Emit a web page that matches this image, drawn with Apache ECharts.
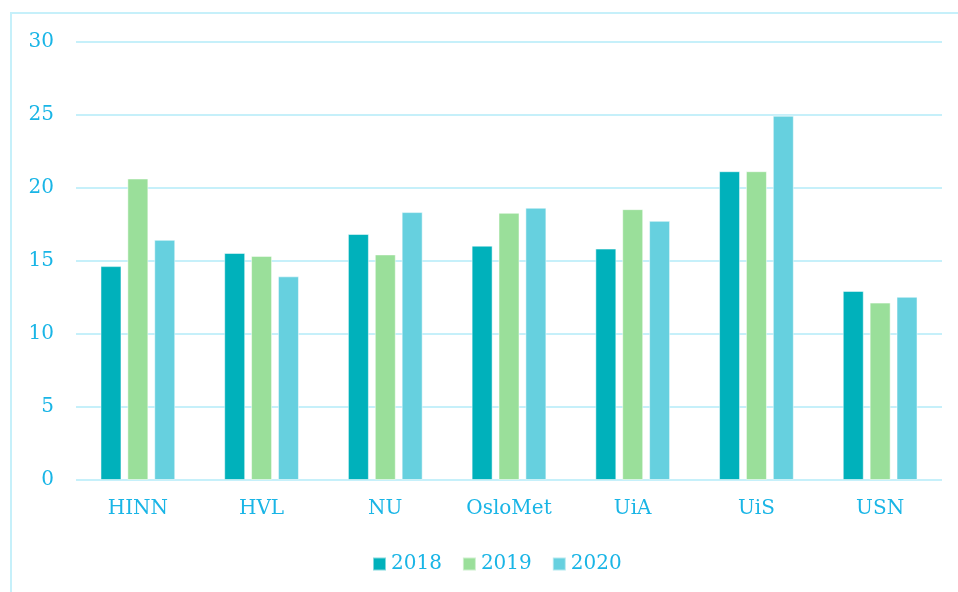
<!DOCTYPE html>
<html>
<head>
<meta charset="utf-8">
<script src="https://cdn.jsdelivr.net/npm/echarts@6/dist/echarts.min.js"></script>
<style>
  html, body { margin: 0; padding: 0; background: #fff; }
  #chart { width: 958px; height: 592px; }
</style>
</head>
<body>
<div id="chart"></div>
<script>
const categories = ['HINN', 'HVL', 'NU', 'OsloMet', 'UiA', 'UiS', 'USN']
const years = ['2018', '2019', '2020']
const values2018 = [14.65, 15.55, 16.85, 16.05, 15.85, 21.15, 12.95]
const values2019 = [20.65, 15.35, 15.45, 18.3, 18.55, 21.15, 12.15]
const values2020 = [16.45, 13.95, 18.35, 18.65, 17.75, 24.95, 12.55]
const colors = ['#00B1BB', '#9ADF9A', '#66D0DF']

const textColor = '#19B5E6'
const lineColor = '#C6F0FA'
const font = '"DejaVu Serif", "Liberation Serif", serif'

const chart = echarts.init(document.getElementById('chart'))

const seriesData = [values2018, values2019, values2020]

chart.setOption({
  animation: false,
  color: colors,
  graphic: [
    {
      type: 'polyline',
      shape: { points: [[11, 600], [11, 13], [960, 13]] },
      style: { stroke: lineColor, lineWidth: 2, fill: null },
    },
  ],
  grid: { left: 76, right: 16, top: 42, bottom: 112 },
  legend: {
    bottom: 13,
    left: 367,
    itemWidth: 13,
    itemHeight: 13,
    itemGap: 20,
    icon: 'rect',
    textStyle: { color: textColor, fontFamily: font, fontSize: 20 },
    data: years,
  },
  xAxis: {
    type: 'category',
    data: categories,
    axisLine: { show: false },
    axisTick: { show: false },
    axisLabel: { color: textColor, fontFamily: font, fontSize: 20, margin: 19 },
  },
  yAxis: {
    type: 'value',
    min: 0,
    max: 30,
    interval: 5,
    axisLine: { show: false },
    axisTick: { show: false },
    axisLabel: { color: textColor, fontFamily: font, fontSize: 20, margin: 22 },
    splitLine: { lineStyle: { color: lineColor, width: 2 } },
  },
  series: years.map((y, i) => ({
    name: y,
    type: 'bar',
    data: seriesData[i],
    barWidth: 21,
    barGap: '28%',
    itemStyle: { borderColor: 'rgba(255,255,255,0.5)', borderWidth: 1 },
  })),
})
</script>
</body>
</html>
